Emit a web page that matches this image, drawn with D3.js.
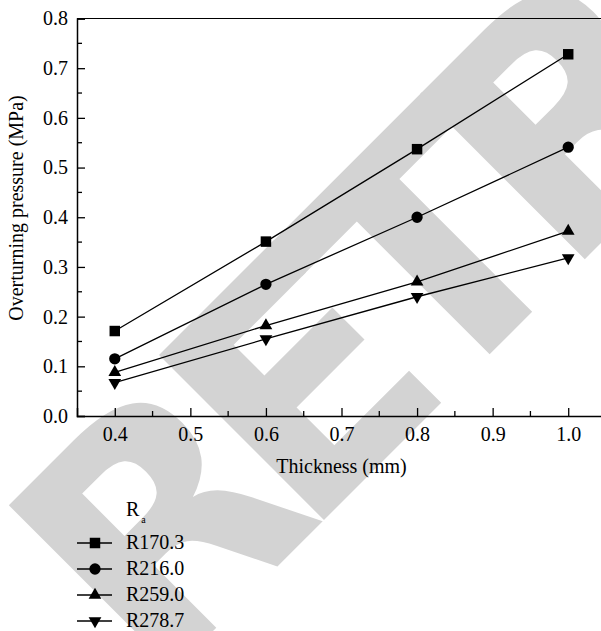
<!DOCTYPE html>
<html>
<head>
<meta charset="utf-8">
<script src="https://cdn.jsdelivr.net/npm/d3@7"></script>
<style>
  body { margin: 0; background: #fff; }
  svg { display: block; }
</style>
</head>
<body>
<div id="chart"></div>
<script>
const thickness = [0.4, 0.6, 0.8, 1.0];
const seriesNames = ["R170.3", "R216.0", "R259.0", "R278.7"];
const r170 = [0.171, 0.351, 0.537, 0.728];
const r216 = [0.115, 0.265, 0.400, 0.541];
const r259 = [0.088, 0.182, 0.270, 0.372];
const r278 = [0.067, 0.155, 0.240, 0.318];
const xTicks = [0.4, 0.5, 0.6, 0.7, 0.8, 0.9, 1.0];
const yTicks = [0.0, 0.1, 0.2, 0.3, 0.4, 0.5, 0.6, 0.7, 0.8];

const series = [
  { name: seriesNames[0], values: r170, symbol: d3.symbolSquare, size: 110, rot: 0 },
  { name: seriesNames[1], values: r216, symbol: d3.symbolCircle, size: 100, rot: 0 },
  { name: seriesNames[2], values: r259, symbol: d3.symbolTriangle, size: 70, rot: 0 },
  { name: seriesNames[3], values: r278, symbol: d3.symbolTriangle, size: 70, rot: 180 }
];

const width = 601, height = 631;
const margin = { left: 77, top: 18.5, right: 606, bottom: 416 };
const serif = "'Liberation Serif', 'DejaVu Serif', serif";
const fs = 20;

const svg = d3.select('#chart')
              .append('svg')
              .attr('width', width)
              .attr('height', height);

// retraction stamp behind everything
svg.append('text')
   .attr('transform', 'translate(153,691) rotate(-45)')
   .attr('font-family', "'DejaVu Sans', sans-serif")
   .attr('font-weight', 'bold')
   .attr('font-size', 320)
   .attr('letter-spacing', -34)
   .attr('fill', '#d3d3d3')
   .text('RETRACTED');

const x = d3.scaleLinear().domain([0.35, 1.05]).range([margin.left, margin.right]);
const y = d3.scaleLinear().domain([0, 0.8]).range([margin.bottom, margin.top]);

// top frame line
svg.append('line')
   .attr('x1', margin.left).attr('x2', width)
   .attr('y1', margin.top).attr('y2', margin.top)
   .attr('stroke', '#000').attr('stroke-width', 1.2);

// x axis, ticks pointing inward
const xAxis = svg.append('g')
   .attr('transform', `translate(0,${margin.bottom})`)
   .call(d3.axisBottom(x).tickValues(xTicks).tickFormat(d3.format('.1f')).tickSize(-8).tickPadding(11));
xAxis.append('g').selectAll('line')
   .data(d3.range(0.45, 1.05, 0.1))
   .enter().append('line')
   .attr('x1', d => x(d)).attr('x2', d => x(d))
   .attr('y1', 0).attr('y2', -5)
   .attr('stroke', '#000').attr('stroke-width', 1.3);

const yAxis = svg.append('g')
   .attr('transform', `translate(${margin.left},0)`)
   .call(d3.axisLeft(y).tickValues(yTicks).tickFormat(d3.format('.1f')).tickSize(-8).tickPadding(9));
yAxis.append('g').selectAll('line')
   .data(d3.range(0.05, 0.8, 0.1))
   .enter().append('line')
   .attr('x1', 0).attr('x2', 5)
   .attr('y1', d => y(d)).attr('y2', d => y(d))
   .attr('stroke', '#000').attr('stroke-width', 1.3);

svg.selectAll('.domain').attr('stroke', '#000').attr('stroke-width', 1.5);
svg.selectAll('.tick line').attr('stroke', '#000').attr('stroke-width', 1.3);
svg.selectAll('.tick text')
   .attr('font-family', serif)
   .attr('font-size', fs)
   .attr('fill', '#000');

// axis titles
svg.append('text')
   .attr('x', (margin.left + margin.right) / 2)
   .attr('y', 473)
   .attr('text-anchor', 'middle')
   .attr('font-family', serif)
   .attr('font-size', fs)
   .text('Thickness (mm)');

svg.append('text')
   .attr('transform', `translate(23,208) rotate(-90)`)
   .attr('text-anchor', 'middle')
   .attr('font-family', serif)
   .attr('font-size', fs)
   .text('Overturning pressure (MPa)');

// lines and markers
const line = d3.line().x((d, i) => x(thickness[i])).y(d => y(d));

series.forEach(s => {
  svg.append('path')
     .attr('d', line(s.values))
     .attr('fill', 'none')
     .attr('stroke', '#000')
     .attr('stroke-width', 1.3);

  svg.append('g').selectAll('path')
     .data(s.values)
     .enter()
     .append('path')
     .attr('d', d3.symbol().type(s.symbol).size(s.size))
     .attr('transform', (d, i) => `translate(${x(thickness[i])},${y(d)}) rotate(${s.rot})`)
     .attr('fill', '#000');
});

// legend
const legend = svg.append('g');
legend.append('text')
   .attr('x', 126).attr('y', 516)
   .attr('font-family', serif)
   .attr('font-size', fs)
   .text('R')
   .append('tspan')
   .attr('dx', 2).attr('dy', 7)
   .attr('font-size', 10)
   .text('a');

series.forEach((s, i) => {
  const cy = 543 + i * 26;
  legend.append('line')
     .attr('x1', 77).attr('x2', 112)
     .attr('y1', cy).attr('y2', cy)
     .attr('stroke', '#000').attr('stroke-width', 1.3);
  legend.append('path')
     .attr('d', d3.symbol().type(s.symbol).size(s.size))
     .attr('transform', `translate(95,${cy}) rotate(${s.rot})`)
     .attr('fill', '#000');
  legend.append('text')
     .attr('x', 126).attr('y', cy + 6)
     .attr('font-family', serif)
     .attr('font-size', fs)
     .text(s.name);
});
</script>
</body>
</html>
